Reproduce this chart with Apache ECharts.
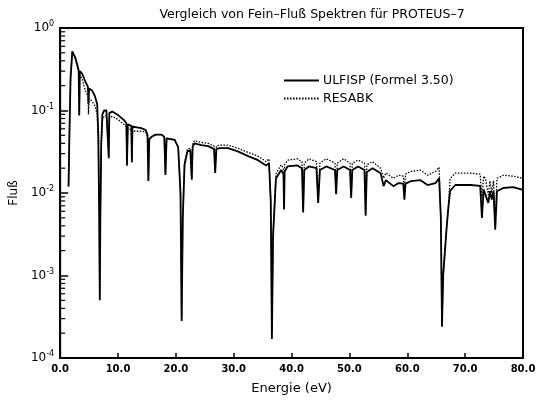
<!DOCTYPE html>
<html>
<head>
<meta charset="utf-8">
<script src="https://cdn.jsdelivr.net/npm/echarts@6/dist/echarts.min.js"></script>
<style>
  html, body { margin: 0; padding: 0; background: #fff; }
  #chart { width: 539px; height: 400px; }
</style>
</head>
<body>
<div id="chart"></div>
<script>
var energy = [
  1.45, 1.6, 1.8, 2.1, 2.3, 2.6, 3.0, 3.2, 3.3, 3.4, 3.8, 4.4, 4.8, 4.9, 5.0, 5.5, 6.0, 6.4, 6.6, 6.75, 6.85, 6.95, 7.1, 7.3,
  7.6, 8.0, 8.3, 8.4, 8.5, 9.0, 10.0, 11.0, 11.45, 11.55, 11.7, 12.3, 12.4, 12.5, 13.0, 14.0, 14.8,
  15.1, 15.25, 15.4, 15.8, 16.5, 17.5, 18.0, 18.2, 18.4, 18.7, 19.8, 20.4, 20.8, 21.0, 21.2, 21.5,
  22.0, 22.5, 22.75, 22.9, 23.2, 24.4, 25.6, 26.6, 26.8, 27.0, 27.5, 29.0, 30.7, 32.5, 34.2, 35.6, 36.1, 36.4, 36.6, 36.8,
  37.3, 38.2, 38.6, 38.7, 38.8, 39.3, 41.0, 41.8, 42.0, 42.2, 43.0, 44.3, 44.6, 44.9, 46.0, 47.5, 47.7, 47.9, 49.0, 50.1, 50.3, 50.5, 51.5, 52.6, 52.8, 53.0, 54.0,
  55.4, 55.9, 56.3, 56.6, 57.6, 58.5, 59.3, 59.5, 59.7, 60.6, 62.3, 63.5, 64.9, 65.5, 65.8, 66.0, 66.2,
  66.8, 67.1, 67.4, 68.3, 70.9, 72.6, 72.9, 73.2, 73.5, 74.0, 74.3, 74.6, 74.9, 75.2, 75.5, 75.7, 76.6, 78.3, 80.0
];

// ULFISP (Formel 3.50) - durchgezogen
var ulfisp = [
  0.012, 0.05, 0.25, 0.52, 0.53, 0.44, 0.35, 0.31, 0.087, 0.30, 0.28, 0.22, 0.195, 0.12, 0.185, 0.175, 0.15, 0.12, 0.05, 0.005, 0.0005, 0.005, 0.04, 0.09,
  0.10, 0.10, 0.095, 0.027, 0.093, 0.097, 0.088, 0.077, 0.07, 0.022, 0.068, 0.065, 0.024, 0.064, 0.063, 0.061, 0.058,
  0.05, 0.014, 0.045, 0.048, 0.051, 0.051, 0.048, 0.0165, 0.046, 0.046, 0.044, 0.036, 0.01, 0.00028, 0.005, 0.022,
  0.032, 0.033, 0.0145, 0.036, 0.040, 0.038, 0.037, 0.034, 0.0175, 0.034, 0.035, 0.035, 0.032, 0.028, 0.025, 0.0216, 0.023, 0.008, 0.00017, 0.003,
  0.015, 0.019, 0.017, 0.0063, 0.018, 0.021, 0.0216, 0.02, 0.0058, 0.019, 0.021, 0.02, 0.0076, 0.019, 0.021, 0.019, 0.0097, 0.019, 0.021, 0.019, 0.0087, 0.019, 0.021, 0.019, 0.0053, 0.018, 0.02,
  0.0174, 0.0121, 0.0143, 0.0143, 0.0121, 0.0132, 0.013, 0.0083, 0.013, 0.0139, 0.0143, 0.0125, 0.0132, 0.0151, 0.005, 0.00024, 0.001,
  0.0038, 0.0066, 0.0106, 0.0125, 0.0125, 0.0122, 0.005, 0.011, 0.0115, 0.0076, 0.0105, 0.0083, 0.0105, 0.0036, 0.0105, 0.0109, 0.0115, 0.0118, 0.0109
];

// RESABK - gepunktet
var resabk = [
  0.012, 0.05, 0.24, 0.50, 0.51, 0.43, 0.33, 0.29, 0.087, 0.27, 0.24, 0.17, 0.15, 0.09, 0.14, 0.13, 0.115, 0.09, 0.04, 0.005, 0.00055, 0.005, 0.035, 0.075,
  0.085, 0.087, 0.083, 0.026, 0.08, 0.085, 0.078, 0.068, 0.063, 0.021, 0.061, 0.058, 0.023, 0.057, 0.056, 0.056, 0.055,
  0.048, 0.014, 0.044, 0.048, 0.051, 0.051, 0.048, 0.017, 0.046, 0.046, 0.044, 0.036, 0.01, 0.0003, 0.005, 0.023,
  0.034, 0.035, 0.015, 0.039, 0.043, 0.041, 0.040, 0.037, 0.018, 0.037, 0.038, 0.038, 0.035, 0.031, 0.028, 0.024, 0.026, 0.008, 0.0002, 0.003,
  0.017, 0.022, 0.02, 0.007, 0.022, 0.025, 0.026, 0.024, 0.006, 0.023, 0.026, 0.024, 0.008, 0.023, 0.026, 0.023, 0.010, 0.023, 0.026, 0.023, 0.009, 0.023, 0.025, 0.023, 0.0055, 0.022, 0.024,
  0.0199, 0.0151, 0.0175, 0.0183, 0.0151, 0.0164, 0.016, 0.0115, 0.017, 0.0183, 0.0189, 0.0164, 0.0183, 0.0205, 0.005, 0.00026, 0.001,
  0.0038, 0.007, 0.015, 0.0174, 0.0174, 0.0169, 0.0087, 0.016, 0.0151, 0.0095, 0.014, 0.01, 0.014, 0.0045, 0.015, 0.0151, 0.0164, 0.016, 0.0151
];

var xTicks = [0, 10, 20, 30, 40, 50, 60, 70, 80];
var decades = [-4, -3, -2, -1];
var minorSteps = [2, 3, 4, 5, 6, 7, 8, 9];

var minorTicks = [];
decades.forEach(function (d) {
  minorSteps.forEach(function (m) { minorTicks.push([0, m * Math.pow(10, d)]); });
});

function pairs(ys) {
  return energy.map(function (e, i) { return [e, ys[i]]; });
}

var font = 'DejaVu Sans';
var chart = echarts.init(document.getElementById('chart'));

var option = {
  backgroundColor: '#fff',
  animation: false,
  title: {
    text: 'Vergleich von Fein\u2013Flu\u00df Spektren f\u00fcr PROTEUS\u20137',
    left: 307,
    textAlign: 'center',
    top: 3,
    textStyle: { fontFamily: font, fontSize: 12.5, fontWeight: 'normal', color: '#000' }
  },
  legend: {
    orient: 'vertical',
    left: 283,
    top: 74,
    padding: 0,
    itemWidth: 35,
    itemHeight: 10,
    itemGap: 5,
    itemStyle: { opacity: 0 },
    data: ['ULFISP (Formel 3.50)', 'RESABK'],
    textStyle: { fontFamily: font, fontSize: 12.5, color: '#000', padding: [0, 0, 0, -1] }
  },
  grid: {
    left: 58, right: 16, top: 28, bottom: 38,
    show: true, borderColor: '#000', borderWidth: 2
  },
  xAxis: {
    type: 'value',
    min: 0, max: 80, interval: 10,
    name: 'Energie (eV)',
    nameLocation: 'middle',
    nameGap: 24,
    nameTextStyle: { fontFamily: font, fontSize: 13, color: '#000' },
    axisLine: { lineStyle: { color: '#000', width: 2 } },
    axisTick: { inside: true, length: 5, lineStyle: { color: '#000', width: 1.5 } },
    axisLabel: {
      fontFamily: font, fontSize: 10, fontWeight: 'bold', color: '#000', margin: 6,
      formatter: function (v) { return v.toFixed(1); }
    },
    splitLine: { show: false }
  },
  yAxis: {
    type: 'log',
    min: 1e-4, max: 1,
    logBase: 10,
    name: 'Flu\u00df',
    nameLocation: 'middle',
    nameGap: 38,
    nameTextStyle: { fontFamily: font, fontSize: 12, color: '#000' },
    axisLine: { lineStyle: { color: '#000', width: 2 } },
    axisTick: { inside: true, length: 8, lineStyle: { color: '#000', width: 1.5 } },
    axisLabel: {
      margin: 6,
      formatter: function (v) {
        var e = Math.round(Math.log10(v));
        return '{b|10}{e|' + (e === 0 ? '0' : '-' + (-e)) + '}';
      },
      rich: {
        b: { fontFamily: font, fontSize: 12, color: '#000' },
        e: { fontFamily: font, fontSize: 8, color: '#000', padding: [0, 0, 8, 0] }
      }
    },
    splitLine: { show: false }
  },
  series: [
    {
      name: 'ULFISP (Formel 3.50)',
      type: 'line',
      data: pairs(ulfisp),
      symbol: 'none',
      lineStyle: { color: '#000', width: 1.8 },
      itemStyle: { color: '#000' },
      z: 3
    },
    {
      name: 'RESABK',
      type: 'line',
      data: pairs(resabk),
      symbol: 'none',
      lineStyle: { color: '#000', width: 1.3, type: [1.5, 1.5] },
      itemStyle: { color: '#000' },
      z: 2
    },
    {
      // kleine log-Teilstriche an der Y-Achse
      type: 'custom',
      silent: true,
      clip: false,
      data: minorTicks,
      renderItem: function (params, api) {
        var p = api.coord([api.value(0), api.value(1)]);
        return {
          type: 'line',
          shape: { x1: p[0], y1: p[1], x2: p[0] + 5, y2: p[1] },
          style: { stroke: '#000', lineWidth: 1.2 }
        };
      }
    }
  ]
};

chart.setOption(option);
</script>
</body>
</html>
